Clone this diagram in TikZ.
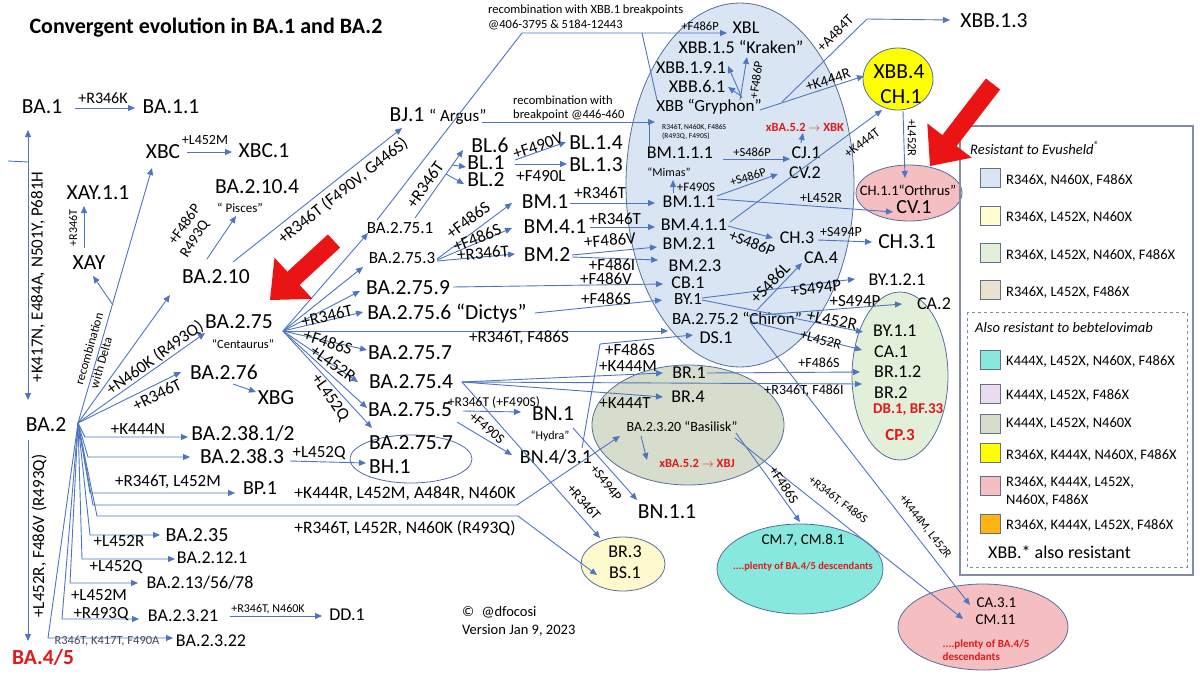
\documentclass[tikz,border=0pt]{standalone}
\usepackage{fontspec}
\setmainfont{Carlito}
\usetikzlibrary{shapes.geometric,arrows.meta}
\newcommand{\myfs}[1]{\fontsize{#1}{#1}\selectfont}
\definecolor{lnblue}{RGB}{78,118,192}
\definecolor{elborder}{RGB}{85,110,160}
\definecolor{cblue}{RGB}{218,229,243}
\definecolor{cyel}{RGB}{255,255,0}
\definecolor{cpink}{RGB}{245,190,192}
\definecolor{cgreen}{RGB}{226,240,217}
\definecolor{cgray}{RGB}{214,221,204}
\definecolor{ccream}{RGB}{255,250,205}
\definecolor{ccyan}{RGB}{135,232,222}
\definecolor{cbeige}{RGB}{236,225,205}
\definecolor{clav}{RGB}{235,219,240}
\definecolor{corange}{RGB}{255,180,20}
\definecolor{cpaleyel}{RGB}{255,253,205}
\definecolor{tred}{RGB}{225,25,25}
\definecolor{arrred}{RGB}{235,20,20}
\definecolor{legbord}{RGB}{130,140,162}
\definecolor{swbord}{RGB}{100,112,135}
\definecolor{labgray}{RGB}{70,72,95}
\tikzset{
 nbig/.style={inner sep=1pt, font=\myfs{21.5}},
 nmid/.style={inner sep=1pt, font=\myfs{18}},
 lbl/.style={inner sep=0.5pt, font=\myfs{17}},
 lblm/.style={inner sep=0.5pt, font=\myfs{14}},
 lbls/.style={inner sep=0.5pt, font=\myfs{12.5}},
 conn/.style={draw=lnblue, line width=0.9pt, -{Triangle[length=7pt,width=6pt]}},
 plainln/.style={draw=lnblue, line width=0.9pt},
 ellp/.style={draw=elborder, line width=0.8pt},
 swatch/.style={draw=swbord, line width=0.8pt, minimum width=20pt, minimum height=19pt, inner sep=0pt},
 legtxt/.style={anchor=west, inner sep=0pt, font=\myfs{14.5}}
}
\begin{document}
\begin{tikzpicture}[x=1pt,y=-1pt]
\useasboundingbox (0,0) rectangle (1200,675);
\fill[white] (0,0) rectangle (1200,675);

% ---------- ellipses ----------
\coordinate (eblu) at (740,185);
\coordinate (eyel) at (898,79);
\coordinate (eorth) at (909,193);
\coordinate (egrn) at (900,376);
\coordinate (ebas) at (688,425);
\coordinate (ebr) at (623,564);
\coordinate (ecm) at (800,569);
\coordinate (eca) at (983,627);
\coordinate (ebh) at (411,459);
\draw[ellp, fill=cblue] (eblu) ellipse [x radius=114, y radius=182];
\draw[ellp, fill=cyel] (eyel) ellipse [x radius=35, y radius=31];
\draw[ellp, fill=cpink] (eorth) ellipse [x radius=53, y radius=28];
\draw[ellp, fill=cgreen] (egrn) ellipse [x radius=48, y radius=84];
\draw[ellp, fill=cgray] (ebas) ellipse [x radius=96, y radius=60];
\draw[ellp, fill=ccream] (ebr) ellipse [x radius=42, y radius=27];
\draw[ellp, fill=ccyan] (ecm) ellipse [x radius=83, y radius=45];
\draw[ellp, fill=cpink] (eca) ellipse [x radius=85, y radius=43];
\draw[ellp, fill=white] (ebh) ellipse [x radius=61, y radius=24];

% ---------- legend ----------
\draw[legbord, line width=1.5pt] (960,126) rectangle (1193,575);
\draw[legbord, dashed, line width=0.9pt] (967,312) rectangle (1187,567);
\node[anchor=west, inner sep=0pt, font=\itshape\myfs{14.5}] (legh1) at (970,148) {Resistant to Evusheld\textsuperscript{®}};
\node[anchor=west, inner sep=0pt, font=\itshape\myfs{14.5}] (legh2) at (975,328) {Also resistant to bebtelovimab};
\node[swatch, fill=cblue] (sw1) at (990,178) {};
\node[swatch, fill=cpaleyel] (sw2) at (990,216) {};
\node[swatch, fill=cgreen] (sw3) at (990,253) {};
\node[swatch, fill=cbeige] (sw4) at (990,290) {};
\node[swatch, fill=ccyan] (sw5) at (990,360) {};
\node[swatch, fill=clav] (sw6) at (990,394) {};
\node[swatch, fill=cgray] (sw7) at (990,424) {};
\node[swatch, fill=cyel] (sw8) at (990,453) {};
\node[swatch, fill=cpink] (sw9) at (990,486) {};
\node[swatch, fill=corange] (sw10) at (990,524) {};
\node[legtxt] (lt1) at (1006,180) {R346X, N460X, F486X};
\node[legtxt] (lt2) at (1006,218) {R346X, L452X, N460X};
\node[legtxt] (lt3) at (1006,255) {R346X, L452X, N460X, F486X};
\node[legtxt] (lt4) at (1006,292) {R346X, L452X, F486X};
\node[legtxt] (lt5) at (1006,361) {K444X, L452X, N460X, F486X};
\node[legtxt] (lt6) at (1006,395) {K444X, L452X, F486X};
\node[legtxt] (lt7) at (1006,424) {K444X, L452X, N460X};
\node[legtxt] (lt8) at (1006,455) {R346X, K444X, N460X, F486X};
\node[legtxt, align=left, font=\fontsize{14.5}{18}\selectfont] (lt9) at (1006,492) {R346X, K444X, L452X,\\N460X, F486X};
\node[legtxt] (lt10) at (1006,525) {R346X, K444X, L452X, F486X};
\node[anchor=west, inner sep=0pt, font=\myfs{18}] (legx) at (988,552) {XBB.* also resistant};

% ---------- nodes ----------
\node[inner sep=0pt, font=\bfseries\myfs{22}] (title) at (206,28) {Convergent evolution in BA.1 and BA.2};
\node[nbig] (ba1) at (42,107) {BA.1};
\node[nbig] (ba11) at (171,107) {BA.1.1};
\node[nbig] (xbc) at (163,152) {XBC};
\node[nbig] (xbc1) at (264,151) {XBC.1};
\node[nbig] (ba2104) at (257,187) {BA.2.10.4};
\node[inner sep=0.5pt, font=\myfs{13}] (pisces) at (240,208) {“ Pisces”};
\node[nbig] (xay11) at (98,193) {XAY.1.1};
\node[nbig] (xay) at (89,263) {XAY};
\node[nbig] (ba2) at (46,425) {BA.2};
\node[inner sep=1pt, text=tred, font=\bfseries\myfs{21.5}] (ba45) at (43,657) {BA.4/5};
\node[nbig] (ba210) at (216,277) {BA.2.10};
\node[nbig] (bj1) at (438,116) {BJ.1 {\myfs{17}“ Argus”}};
\node[nbig] (ba275) at (239,322) {BA.2.75};
\node[lbls] (cent) at (243,344) {“Centaurus”};
\node[nbig] (ba276) at (224,372) {BA.2.76};
\node[nbig] (xbg) at (276,398) {XBG};
\node[nbig] (ba23812) at (243,433) {BA.2.38.1/2};
\node[nbig] (ba2383) at (242,456) {BA.2.38.3};
\node[inner sep=1pt, font=\myfs{20}] (bp1) at (260,488) {BP.1};
\node[inner sep=1pt, font=\myfs{20}] (ba235) at (197,535) {BA.2.35};
\node[nmid] (ba2121) at (212,558) {BA.2.12.1};
\node[nmid] (ba213) at (200,583) {BA.2.13/56/78};
\node[nmid] (ba2321) at (183,616) {BA.2.3.21};
\node[nmid] (ba2322) at (211,641) {BA.2.3.22};
\node[nmid] (dd1) at (347,615) {DD.1};
\node[anchor=west, inner sep=0pt, font=\myfs{14.5}] (copy1) at (462,612) {©\enspace @dfocosi};
\node[anchor=west, inner sep=0pt, font=\myfs{14.5}] (copy2) at (462,630) {Version Jan 9, 2023};

\node[inner sep=1pt, font=\myfs{17}] (ba2751) at (400,228) {BA.2.75.1};
\node[inner sep=1pt, font=\myfs{17}] (ba2753) at (402,258) {BA.2.75.3};
\node[nbig] (ba2759) at (408,288) {BA.2.75.9};
\node[nbig] (ba2756) at (447,313) {BA.2.75.6 “Dictys”};
\node[nbig] (ba2757a) at (410,353) {BA.2.75.7};
\node[nbig] (ba2754) at (411,382) {BA.2.75.4};
\node[nbig] (ba2755) at (410,410) {BA.2.75.5};
\node[nbig, anchor=west] (ba2757b) at (368,443) {BA.2.75.7};
\node[nbig, anchor=west] (bh1) at (368,467) {BH.1};
\node[nbig] (bl6) at (490,145) {BL.6};
\node[nbig] (bl1) at (486,163) {BL.1};
\node[nbig] (bl2) at (486,180) {BL.2};
\node[nbig] (bl14) at (596,143) {BL.1.4};
\node[nbig] (bl13) at (596,165) {BL.1.3};
\node[nbig] (bm1) at (545,202) {BM.1};
\node[nbig] (bm41) at (555,227) {BM.4.1};
\node[nbig] (bm2) at (547,255) {BM.2};

\node[nmid] (xbl) at (746,28) {XBL};
\node[nmid] (xbb15) at (741,47) {XBB.1.5 “Kraken”};
\node[nmid] (xbb191) at (691,68) {XBB.1.9.1};
\node[nmid] (xbb61) at (697,86) {XBB.6.1};
\node[inner sep=1pt, font=\myfs{17}] (xbb) at (709,107) {XBB “Gryphon”};
\node[anchor=west, align=left, inner sep=0pt, font=\fontsize{7.5}{9}\selectfont] (xbbmut) at (662,131.5) {R346T, N460K, F486S\\(R493Q, F490S)};
\node[inner sep=0.5pt, text=tred, font=\bfseries\myfs{12.5}] (xbk) at (805,127) {xBA.5.2 $\rightarrow$ XBK};
\node[nmid] (bm111) at (680,153) {BM.1.1.1};
\node[inner sep=0.5pt, font=\myfs{12}] (mimas) at (669,172) {“Mimas”};
\node[nmid] (cj1) at (806,153) {CJ.1};
\node[nmid] (cv2) at (805,173) {CV.2};
\node[nmid] (bm11) at (689,202) {BM.1.1};
\node[nmid] (bm411) at (694,225) {BM.4.1.1};
\node[nmid] (bm21) at (689,244) {BM.2.1};
\node[nmid] (bm23) at (695,266) {BM.2.3};
\node[nmid] (cb1) at (688,283) {CB.1};
\node[inner sep=1pt, font=\myfs{17}] (by1) at (688,299) {BY.1};
\node[inner sep=1pt, font=\myfs{17}] (chiron) at (737,318) {BA.2.75.2 “Chiron”};
\node[nmid] (ds1) at (716,338) {DS.1};
\node[nmid] (ch3) at (797,238) {CH.3};
\node[nmid] (ca4) at (821,258) {CA.4};

\node[nbig] (xbb13) at (994,21) {XBB.1.3};
\node[nbig] (xbb4) at (899,72) {XBB.4};
\node[nbig] (ch1) at (901,97) {CH.1};
\node[inner sep=0.5pt, font=\myfs{14.5}] (orth) at (908,190) {CH.1.1“Orthrus”};
\node[inner sep=1pt, font=\myfs{20}] (cv1) at (914,207) {CV.1};
\node[nbig] (ch31) at (907,242) {CH.3.1};
\node[nmid] (by121) at (897,280) {BY.1.2.1};
\node[nmid] (ca2) at (934,304) {CA.2};
\node[nmid, anchor=west] (by11) at (872,331) {BY.1.1};
\node[nmid, anchor=west] (ca1) at (873,352) {CA.1};
\node[nmid, anchor=west] (br12) at (873,372) {BR.1.2};
\node[nmid, anchor=west] (br2) at (873,393) {BR.2};
\node[anchor=west, inner sep=1pt, text=tred, font=\bfseries\myfs{15}] (dbbf) at (872,410) {DB.1, BF.33};
\node[inner sep=1pt, text=tred, font=\bfseries\myfs{17}] (cp3) at (900,435) {CP.3};

\node[nmid] (br1) at (689,373) {BR.1};
\node[nmid] (br4) at (688,397) {BR.4};
\node[inner sep=0.5pt, font=\myfs{14}] (basilisk) at (682,427) {BA.2.3.20 “Basilisk”};
\node[inner sep=0.5pt, text=tred, font=\bfseries\myfs{12.5}] (xbj) at (697,463) {xBA.5.2 $\rightarrow$ XBJ};
\node[nbig] (bn1) at (553,414) {BN.1};
\node[inner sep=0.5pt, font=\myfs{12}] (hydra) at (550,436) {“Hydra”};
\node[inner sep=1pt, font=\myfs{20}] (bn43) at (556,457) {BN.4/3.1};
\node[nbig] (bn11) at (667,512) {BN.1.1};
\node[nmid] (br3) at (625,552) {BR.3};
\node[nmid] (bs1) at (625,573) {BS.1};
\node[inner sep=0.5pt, font=\myfs{15}] (cm78) at (803,540) {CM.7, CM.8.1};
\node[inner sep=0.5pt, text=tred, font=\bfseries\myfs{10.5}] (plenty1) at (803,567) {....plenty of BA.4/5 descendants};
\node[anchor=west, inner sep=0.5pt, font=\myfs{15}] (ca31) at (976,603) {CA.3.1};
\node[anchor=west, inner sep=0.5pt, font=\myfs{15}] (cm11) at (975,620) {CM.11};
\node[anchor=west, align=left, inner sep=0.5pt, text=tred, font=\bfseries\fontsize{11}{13}\selectfont] (plenty2) at (942,650) {....plenty of BA.4/5\\descendants};

% ---------- connectors ----------
\draw[conn] ([shift={(33,1)}]ba1.center) -- ([shift={(-36,1)}]ba11.center);
\coordinate (lh) at (8,161);
\coordinate (lv) at (28,162);
\draw[plainln] (lh) -- (lv);
\draw[conn] (lv) -- ([shift={(-14,23)}]ba1.center);
\draw[conn] (lv) -- ([shift={(-18,-25)}]ba2.center);
\draw[conn] ([shift={(-18,15)}]ba2.center) -- ([shift={(-15,-16)}]ba45.center);

\coordinate (o2) at ([shift={(32,-2)}]ba2.center);
\draw[conn] (o2) -- ([shift={(-11,16)}]xbc.center);
\coordinate (rb) at (113,305);
\draw[conn] (rb) -- ([shift={(4,13)}]xay.center);
\draw[conn] (o2) -- ([shift={(-46,18)}]ba210.center);
\draw[conn] (o2) -- ([shift={(-34,11)}]ba275.center);
\draw[conn] (o2) -- ([shift={(-43,0)}]ba276.center);
\coordinate (c1) at (85,437);
\draw[conn] (o2) -- (c1) -- ([shift={(-55,4)}]ba23812.center);
\coordinate (c2) at (88,457);
\draw[conn] (o2) -- (c2) -- ([shift={(-52,1)}]ba2383.center);
\coordinate (c3) at (90,493);
\draw[conn] (o2) -- (c3) -- ([shift={(-25,5)}]bp1.center);
\coordinate (c4) at (93,505);
\coordinate (k1) at (517,505);
\draw[conn] (o2) -- (c4) -- (k1) -- ([shift={(-62,9)}]basilisk.center);
\coordinate (c5) at (97,516);
\coordinate (k2) at (518,516);
\draw[conn] (o2) -- (c5) -- (k2) -- ([shift={(-26,11)}]ebr.center);
\coordinate (c6) at (90,535);
\draw[conn] (o2) -- (c6) -- ([shift={(-37,0)}]ba235.center);
\coordinate (c7) at (82,559);
\draw[conn] (o2) -- (c7) -- ([shift={(-37,1)}]ba2121.center);
\coordinate (c8) at (70,583);
\draw[conn] (o2) -- (c8) -- ([shift={(-62,0)}]ba213.center);
\coordinate (c9) at (62,619);
\draw[conn] (o2) -- (c9) -- ([shift={(-44,3)}]ba2321.center);
\coordinate (c10) at (48,638);
\draw[conn] (o2) -- (c10) -- ([shift={(-38,-3)}]ba2322.center);

\draw[conn] ([shift={(-5,-15)}]xay.center) -- ([shift={(-14,13)}]xay11.center);
\draw[conn] ([shift={(-9,-18)}]ba210.center) -- ([shift={(-21,29)}]ba2104.center);
\draw[conn] ([shift={(17,-15)}]ba210.center) -- ([shift={(-36,12)}]bj1.center);
\draw[conn] ([shift={(44,6)}]bj1.center) -- ([shift={(-54,15)}]xbb.center);
\coordinate (rj) at (649,122);
\draw[plainln] ([shift={(-31,-7)}]bm111.center) -- (rj);
\coordinate (xb1) at (522,33);
\draw[conn] ([shift={(-23,-8)}]ba2751.center) -- (xb1) -- ([shift={(-19,5)}]xbl.center);
\coordinate (xb2) at (642,33);
\draw[plainln] (xb2) -- ([shift={(-52,-7)}]xbb.center);

\coordinate (o75) at ([shift={(44,9)}]ba275.center);
\draw[conn] (o75) -- ([shift={(-32,5)}]ba2751.center);
\draw[conn] (o75) -- ([shift={(-39,9)}]ba2753.center);
\draw[conn] (o75) -- ([shift={(-48,3)}]ba2759.center);
\draw[conn] (o75) -- ([shift={(-84,-1)}]ba2756.center);
\draw[conn] (o75) -- ([shift={(-69,13)}]chiron.center);
\draw[conn] (o75) -- ([shift={(-43,-3)}]ba2757a.center);
\draw[conn] (o75) -- ([shift={(-53,0)}]ba2754.center);
\draw[conn] (o75) -- ([shift={(-43,-2)}]ba2755.center);
\draw[conn] (o75) -- ([shift={(-39,-31)}]ebh.center);

\draw[conn] ([shift={(15,-10)}]ba2751.center) -- ([shift={(-27,5)}]bl6.center);
\coordinate (bb1) at (452,165);
\draw[conn] (bb1) -- ([shift={(-20,4)}]bl1.center);
\coordinate (bb2) at (446,174);
\draw[conn] (bb2) -- ([shift={(-22,4)}]bl2.center);
\draw[conn] ([shift={(29,-3)}]bl1.center) -- ([shift={(-30,-1)}]bl14.center);
\draw[conn] ([shift={(29,1)}]bl1.center) -- ([shift={(-29,-1)}]bl13.center);

\draw[conn] ([shift={(35,1)}]ba2753.center) -- ([shift={(-33,1)}]bm1.center);
\draw[conn] ([shift={(35,2)}]ba2753.center) -- ([shift={(-43,1)}]bm41.center);
\draw[conn] ([shift={(35,3)}]ba2753.center) -- ([shift={(-32,-1)}]bm2.center);
\draw[conn] ([shift={(25,1)}]bm1.center) -- ([shift={(-34,1)}]bm11.center);
\draw[conn] ([shift={(35,0)}]bm41.center) -- ([shift={(-39,2)}]bm411.center);
\draw[conn] ([shift={(25,0)}]bm2.center) -- ([shift={(-32,3)}]bm21.center);
\draw[conn] ([shift={(25,2)}]bm2.center) -- ([shift={(-37,-6)}]bm23.center);
\draw[conn] ([shift={(45,-1)}]ba2759.center) -- ([shift={(-25,1)}]cb1.center);
\draw[conn] ([shift={(88,0)}]ba2756.center) -- ([shift={(-26,1)}]by1.center);
\coordinate (dsb) at (600,344);
\draw[conn] ([shift={(26,-9)}]bn43.center) -- (dsb) -- ([shift={(-23,-3)}]ds1.center);

\coordinate (o754) at ([shift={(51,0)}]ba2754.center);
\draw[conn] (o754) -- ([shift={(-26,0)}]br1.center);
\draw[conn] (o754) -- ([shift={(-25,0)}]br4.center);
\draw[conn] (o754) -- ([shift={(-11,-9)}]br2.west);
\draw[conn] (o754) -- ([shift={(-23,-26)}]ebr.center);
\draw[conn] ([shift={(18,0)}]br1.center) -- ([shift={(-13,0)}]br12.west);
\draw[conn] ([shift={(53,1)}]ba2755.center) -- ([shift={(-32,-2)}]bn1.center);
\draw[conn] ([shift={(47,12)}]ba2755.center) -- ([shift={(-44,-2)}]bn43.center);
\draw[conn] ([shift={(20,14)}]bn1.center) -- ([shift={(-30,-12)}]bn11.center);

\draw[conn] ([shift={(-41,9)}]basilisk.center) -- ([shift={(-50,-3)}]xbj.center);
\draw[conn] ([shift={(54,6)}]basilisk.center) -- ([shift={(0,-47)}]ecm.center);
\draw[conn] ([shift={(53,11)}]basilisk.center) -- ([shift={(-12,-1)}]cm11.west);
\draw[conn] ([shift={(13,4)}]chiron.center) -- ([shift={(-6,2)}]ca31.west);

\draw[conn] ([shift={(43,6)}]bm111.center) -- ([shift={(-16,6)}]cj1.center);
\draw[conn] ([shift={(-5,-10)}]cj1.center) -- ([shift={(-2,6)}]xbk.center);
\draw[conn] ([shift={(-16,-9)}]bm11.center) -- ([shift={(4,8)}]mimas.center);
\draw[conn] ([shift={(28,-6)}]bm11.center) -- ([shift={(-27,1)}]cv2.center);
\draw[conn] ([shift={(28,-3)}]bm11.center) -- ([shift={(-21,5)}]cv1.center);
\draw[conn] ([shift={(36,-3)}]bm411.center) -- ([shift={(-16,31)}]eyel.center);
\draw[conn] ([shift={(51,3)}]xbb.center) -- ([shift={(-34,-3)}]eyel.center);
\coordinate (a4) at (867,19);
\draw[conn] ([shift={(73,-5)}]xbb.center) -- (a4) -- ([shift={(-44,-1)}]xbb13.center);
\draw[conn] ([shift={(31,-7)}]xbb.center) -- ([shift={(6,10)}]xbb15.center);
\draw[conn] ([shift={(33,-9)}]xbb.center) -- ([shift={(37,-2)}]xbb191.center);
\draw[conn] ([shift={(32,-11)}]xbb.center) -- ([shift={(31,1)}]xbb61.center);
\draw[conn] ([shift={(5,32)}]eyel.center) -- ([shift={(-4,-15)}]eorth.center);
\draw[conn] ([shift={(34,1)}]bm411.center) -- ([shift={(-24,0)}]ch3.center);
\draw[conn] ([shift={(21,2)}]ch3.center) -- ([shift={(-35,0)}]ch31.center);
\draw[conn] ([shift={(20,-8)}]chiron.center) -- ([shift={(-19,5)}]ca4.center);
\draw[conn] ([shift={(14,-1)}]by1.center) -- ([shift={(-42,-1)}]by121.center);
\draw[conn] ([shift={(14,1)}]by1.center) -- ([shift={(-9,1)}]by11.west);
\draw[conn] ([shift={(11,-2)}]chiron.center) -- ([shift={(-32,0)}]ca2.center);
\draw[conn] ([shift={(15,4)}]chiron.center) -- ([shift={(-11,-2)}]ca1.west);

\draw[conn] ([shift={(9,12)}]ba276.center) -- ([shift={(-20,-6)}]xbg.center);
\draw[conn] ([shift={(48,5)}]ba2383.center) -- ([shift={(-2,-4)}]bh1.west);
\draw[conn] ([shift={(24,0)}]xbc.center) -- ([shift={(-32,1)}]xbc1.center);
\draw[conn] ([shift={(47,0)}]ba2321.center) -- ([shift={(-25,1)}]dd1.center);

% ---------- labels ----------
\node[inner sep=0.5pt, font=\myfs{16}] (l1) at (103,98) {+R346K};
\node[lblm] (l2) at (205,140) {+L452M};
\node[inner sep=0.5pt, font=\myfs{12}, rotate=90] (l3) at (73,228) {+R346T};
\node[inner sep=0.5pt, font=\myfs{15}, rotate=55] (l4) at (184,224) {+F486P};
\node[inner sep=0.5pt, font=\myfs{15}, rotate=58] (l5) at (195,239) {R493Q};
\node[lbl, rotate=38.4] (l6) at (343,191) {+R346T (F490V, G446S)};
\node[lbl, rotate=90] (l7) at (38,277) {+K417N, E484A, N501Y, P681H};
\node[lbl, rotate=90] (l8) at (39,536) {+L452R, F486V (R493Q)};
\node[lbls, rotate=74] (l9a) at (89,349) {recombination};
\node[lbls, rotate=74] (l9b) at (101,363) {with Delta};
\node[lbl, rotate=36] (l10) at (155,358) {+N460K (R493Q)};
\node[lbl, rotate=27] (l11) at (157,395) {+R346T};
\node[lbl] (l12) at (138,429) {+K444N};
\node[lbl] (l13) at (168,482) {+R346T, L452M};
\node[inner sep=0.5pt, font=\myfs{17.5}] (l14) at (405,494) {+K444R, L452M, A484R, N460K};
\node[inner sep=0.5pt, font=\myfs{17.5}] (l15) at (405,528) {+R346T, L452R, N460K (R493Q)};
\node[lbl] (l16) at (119,541) {+L452R};
\node[lbl] (l17) at (116,567) {+L452Q};
\node[lbl] (l18) at (99,595) {+L452M};
\node[lbl] (l19) at (101,614) {+R493Q};
\node[lbls, text=labgray] (l20) at (107,641) {R346T, K417T, F490A};
\node[inner sep=0.5pt, font=\myfs{12}] (l21) at (268,609) {+R346T, N460K};
\node[lbl] (l22) at (319,453) {+L452Q};
\node[anchor=west, align=left, inner sep=0pt, font=\fontsize{12.5}{14}\selectfont] (l23) at (513,108) {recombination with\\breakpoint @446-460};
\node[anchor=west, align=left, inner sep=0pt, font=\fontsize{12.5}{15}\selectfont] (l24) at (488,17) {recombination with XBB.1 breakpoints\\@406-3795 \& 5184-12443};
\node[lbls] (l25) at (700,26) {+F486P};
\node[lbl, rotate=14] (l26) at (327,316) {+R346T};
\node[lbl] (l27) at (519,338) {+R346T, F486S};
\node[lbl, rotate=-18] (l28) at (328,342) {+F486S};
\node[lbl, rotate=-35] (l29) at (333,364) {+L452R};
\node[lbl, rotate=-55] (l30) at (330,398) {+L452Q};
\node[lbl, rotate=55] (l31) at (425,185) {+R346T};
\node[lbl, rotate=19] (l32) at (538,146) {+F490V};
\node[lbl] (l33) at (541,176) {+F490L};
\node[lbl, rotate=37] (l34) at (468,220) {+F486S};
\node[lbl, rotate=22] (l35) at (477,238) {+F486S};
\node[lbl, rotate=5] (l36) at (483,253) {+R346T};
\node[lbl] (l37) at (600,193) {+R346T};
\node[lbl] (l38) at (615,219) {+R346T};
\node[lbl, rotate=5] (l39) at (610,240) {+F486V};
\node[lbl] (l40) at (612,265) {+F486I};
\node[lbl] (l41) at (606,279) {+F486V};
\node[lbl] (l42) at (606,299) {+F486S};
\node[lbl] (l43) at (630,350) {+F486S};
\node[lbl] (l44) at (628,366) {+K444M};
\node[lbl] (l45) at (625,403) {+K444T};
\node[inner sep=0.5pt, font=\myfs{13.5}] (l46) at (494,402) {+R346T (+F490S)};
\node[lblm, rotate=-40] (l47) at (487,428) {+F490S};
\node[lblm, rotate=-48.5] (l48) at (584,502) {+R346T};
\node[lblm, rotate=-52] (l49) at (606,483) {+S494P};
\node[lblm, rotate=-56] (l50) at (784,485) {+F486S};
\node[inner sep=0.5pt, font=\myfs{12}, rotate=-37] (l51) at (838,500) {+R346T, F486S};
\node[inner sep=0.5pt, font=\myfs{12}, rotate=-52] (l52) at (925,527) {+K444M, L452R};
\node[lbls] (l53) at (752,152) {+S486P};
\node[inner sep=0.5pt, font=\myfs{13}] (l54) at (696,187) {+F490S};
\node[lbls, rotate=18] (l55) at (748,177) {+S486P};
\node[lblm] (l56) at (821,198) {+L452R};
\node[inner sep=0.5pt, font=\myfs{13.5}, rotate=37] (l57) at (862,143) {+K444T};
\node[inner sep=0.5pt, font=\myfs{15}, rotate=18] (l58) at (828,80) {+K444R};
\node[inner sep=0.5pt, font=\myfs{14.5}, rotate=45] (l59) at (835,33) {+A484T};
\node[lbls, rotate=82] (l60) at (756,80) {+F486P};
\node[lbls, rotate=-90] (l61) at (912,138) {+L452R};
\node[inner sep=0.5pt, font=\myfs{16}, rotate=-22] (l62) at (752,243) {+S486P};
\node[lblm] (l63) at (841,232) {+S494P};
\node[lbl, rotate=47] (l64) at (770,283) {+S486L};
\node[lbl, rotate=7] (l65) at (816,288) {+S494P};
\node[lbl, rotate=-11] (l66) at (832,320) {+L452R};
\node[lbl] (l67) at (855,301) {+S494P};
\node[lblm, rotate=-15] (l68) at (821,340) {+L452R};
\node[lblm] (l69) at (819,363) {+F486S};
\node[lblm] (l70) at (804,391) {+R346T, F486I};

% ---------- red arrows ----------
\fill[arrred] (985.9,78.5) -- (1000.1,89.5) -- (956.6,146.1) -- (971.7,157.7) -- (930,166) -- (927.3,123.5) -- (942.4,135.1) -- cycle;
\fill[arrred] (327.9,234.4) -- (340.1,247.6) -- (299.6,284.9) -- (312.5,298.9) -- (270,300) -- (274.5,257.7) -- (287.4,271.7) -- cycle;
\end{tikzpicture}
\end{document}
